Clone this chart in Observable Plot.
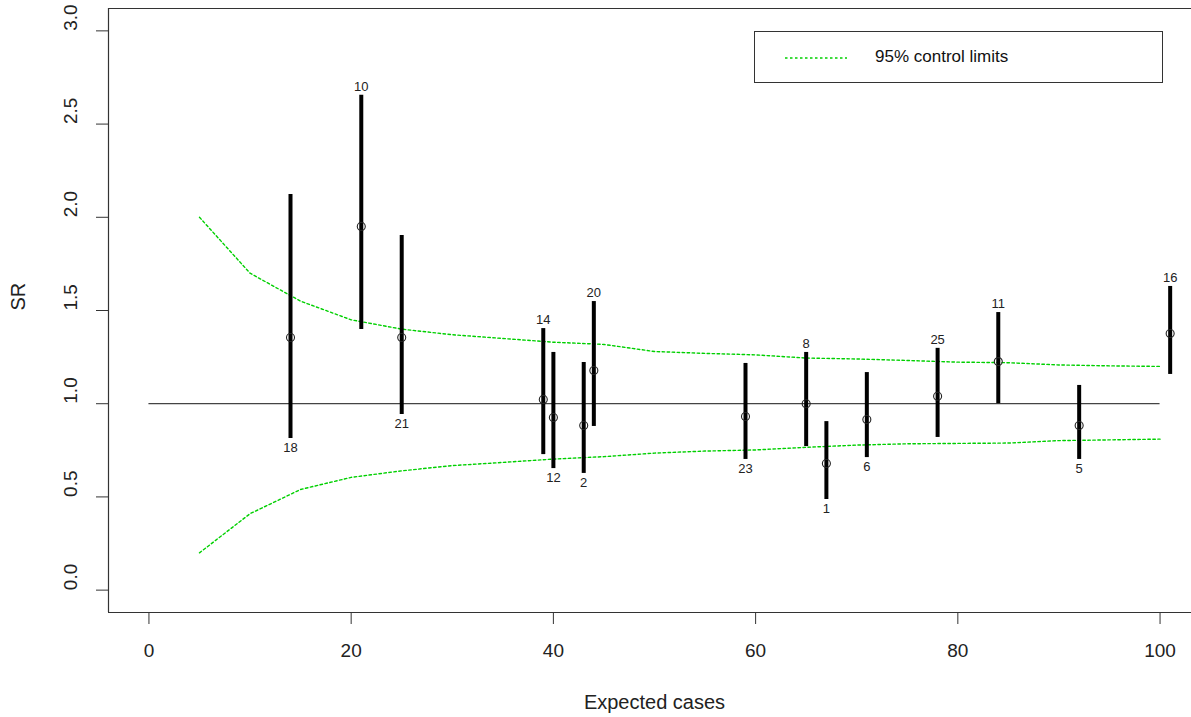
<!DOCTYPE html>
<html><head><meta charset="utf-8">
<script src="https://cdn.jsdelivr.net/npm/d3@7"></script>
<script src="https://cdn.jsdelivr.net/npm/@observablehq/plot@0.6"></script>
<style>
html,body{margin:0;padding:0;background:#fff;overflow:hidden;}
#wrap{position:relative;width:1191px;height:717px;overflow:hidden;background:#fff;}
#chart{width:1200px;height:717px;}
#chart svg{max-width:none !important;display:block;}
#legend{position:absolute;left:754px;top:31px;width:409px;height:52px;border:1px solid #333;box-sizing:border-box;background:#fff;font-family:"Liberation Sans",Arial,sans-serif;}
#legend svg{position:absolute;left:29px;top:24px;}
#legend span{position:absolute;left:120px;top:14px;font-size:17px;line-height:22px;color:#111;white-space:nowrap;}
</style></head><body>
<div id="wrap"><div id="chart"></div>
<div id="legend"><svg width="64" height="4"><line x1="1" y1="2" x2="63" y2="2" stroke="#00d000" stroke-width="1.4" stroke-dasharray="2.5,2.5"/></svg><span>95% control limits</span></div>
</div>
<script>
// area identifiers
const areas = ["18","10","21","14","12","2","20","23","8","1","6","25","11","5","16"];
// expected cases
const expected = [14,21,25,39,40,43,44,59,65,67,71,78,84,92,101];
// standardised ratio (SR)
const sr = [1.355,1.951,1.355,1.023,0.926,0.883,1.178,0.931,1.00,0.679,0.915,1.04,1.226,0.883,1.377];
// 95% confidence interval of each SR
const ciLower = [0.813,1.398,0.942,0.727,0.652,0.626,0.878,0.701,0.770,0.486,0.711,0.819,1.00,0.701,1.157];
const ciUpper = [2.122,2.654,1.902,1.403,1.275,1.221,1.548,1.216,1.275,0.904,1.167,1.297,1.489,1.098,1.629];
// side on which each area label sits
const labelSide = ["bottom","top","bottom","top","bottom","bottom","top","bottom","top","bottom","bottom","top","top","bottom","top"];
// 95% control limits
const limitX = [5,10,15,20,25,30,35,40,45,50,55,60,65,70,75,80,85,90,95,100];
const upperLimit = [2.00,1.70,1.55,1.45,1.40,1.37,1.35,1.33,1.318,1.28,1.27,1.262,1.245,1.24,1.232,1.223,1.22,1.208,1.203,1.20];
const lowerLimit = [0.20,0.41,0.54,0.605,0.64,0.668,0.685,0.703,0.716,0.735,0.746,0.752,0.766,0.778,0.785,0.787,0.789,0.802,0.806,0.81];
// axis ticks
const xTicks = [0,20,40,60,80,100];
const xTickLabels = ["0","20","40","60","80","100"];
const yTicks = [0,0.5,1,1.5,2,2.5,3];
const yTickLabels = ["0.0","0.5","1.0","1.5","2.0","2.5","3.0"];

const pts = areas.map((a,i)=>({area:a, x:expected[i], sr:sr[i], lo:ciLower[i], hi:ciUpper[i], side:labelSide[i]}));
const limits = limitX.map((x,i)=>({x, upper:upperLimit[i], lower:lowerLimit[i]}));
const font = "Liberation Sans, Arial, sans-serif";

const chart = Plot.plot({
  width: 1200, height: 717,
  marginLeft: 108, marginRight: 0, marginTop: 8, marginBottom: 105,
  x: {domain: [-4, 104], axis: null},
  y: {domain: [-0.12, 3.12], axis: null},
  style: {fontFamily: font, background: "white", color: "#222", overflow: "visible", maxWidth: "none"},
  marks: [
    Plot.ruleX([-4], {stroke: "#333", strokeWidth: 1.2}),
    Plot.ruleY([-0.12, 3.12], {stroke: "#333", strokeWidth: 1.2}),
    Plot.axisX({ticks: xTicks, tickSize: 12, tickFormat: () => "", label: null, stroke: "#333"}),
    Plot.axisY({ticks: yTicks, tickSize: 12, tickFormat: () => "", label: null, stroke: "#333"}),
    Plot.text(xTicks, {x: d => d, text: (d,i) => xTickLabels[i], frameAnchor: "bottom", dy: 38, fontSize: 19, lineAnchor: "middle", fill: "#222"}),
    Plot.text(yTicks, {y: d => d, text: (d,i) => yTickLabels[i], frameAnchor: "left", dx: -37.5, rotate: -90, fontSize: 19, lineAnchor: "middle", fill: "#222"}),
    Plot.text(["Expected cases"], {frameAnchor: "bottom", dy: 90, fontSize: 20, lineAnchor: "middle", fill: "#222"}),
    Plot.text(["SR"], {frameAnchor: "left", dx: -89.5, rotate: -90, fontSize: 20, lineAnchor: "middle", fill: "#222"}),
    Plot.ruleY([1], {x1: 0, x2: 100, stroke: "#444", strokeWidth: 1.3}),
    Plot.line(limits, {x: "x", y: "upper", stroke: "#00d000", strokeWidth: 1.4, strokeDasharray: "2.5,2.5"}),
    Plot.line(limits, {x: "x", y: "lower", stroke: "#00d000", strokeWidth: 1.4, strokeDasharray: "2.5,2.5"}),
    Plot.ruleX(pts, {x: "x", y1: "lo", y2: "hi", stroke: "black", strokeWidth: 4}),
    Plot.dot(pts, {x: "x", y: "sr", r: 4, stroke: "#222", fill: "none", strokeWidth: 1.1}),
    Plot.text(pts.filter(d => d.side === "top"), {x: "x", y: "hi", text: "area", dy: -8.5, fontSize: 13, lineAnchor: "middle", fill: "#222"}),
    Plot.text(pts.filter(d => d.side === "bottom"), {x: "x", y: "lo", text: "area", dy: 9, fontSize: 13, lineAnchor: "middle", fill: "#222"})
  ]
});
document.getElementById("chart").appendChild(chart);
</script>
</body></html>
